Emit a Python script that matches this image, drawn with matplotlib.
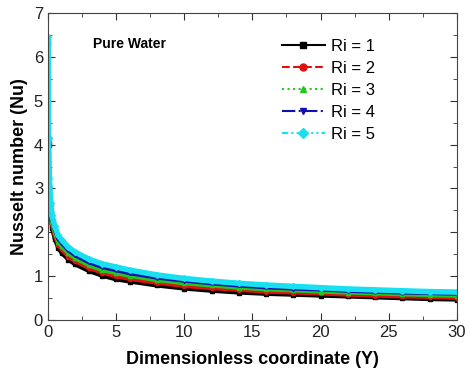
import matplotlib
matplotlib.use("Agg")
import matplotlib.pyplot as plt
from matplotlib.lines import Line2D
from matplotlib.ticker import MultipleLocator

plt.rcParams['font.family'] = ['Liberation Sans', 'DejaVu Sans']

# dimensionless coordinate (Y) and Nusselt number
Y = [0.02, 0.05, 0.1, 0.2, 0.3, 0.5, 0.75, 1, 1.5, 2, 3, 4, 5, 6, 8, 10,
     12, 14, 16, 18, 20, 22, 24, 26, 28, 30]
nu_ri1 = [6.30, 4.00, 3.00, 2.40, 2.10, 1.85, 1.65, 1.53, 1.38, 1.27, 1.12, 1.01, 0.93,
          0.88, 0.79, 0.72, 0.67, 0.63, 0.60, 0.58, 0.56, 0.54, 0.52, 0.50, 0.48, 0.47]
nu_ri2 = [6.35, 4.05, 3.06, 2.47, 2.18, 1.93, 1.72, 1.61, 1.45, 1.34, 1.19, 1.08, 1.00,
          0.94, 0.85, 0.78, 0.73, 0.69, 0.65, 0.63, 0.61, 0.58, 0.56, 0.54, 0.53, 0.51]
nu_ri3 = [6.38, 4.10, 3.12, 2.54, 2.25, 2.00, 1.79, 1.68, 1.52, 1.41, 1.25, 1.14, 1.07,
          1.01, 0.91, 0.84, 0.79, 0.74, 0.70, 0.68, 0.65, 0.63, 0.61, 0.59, 0.57, 0.56]
nu_ri4 = [6.40, 4.12, 3.18, 2.61, 2.32, 2.07, 1.86, 1.76, 1.59, 1.48, 1.32, 1.21, 1.14,
          1.07, 0.97, 0.90, 0.84, 0.79, 0.75, 0.72, 0.70, 0.67, 0.65, 0.63, 0.62, 0.60]
nu_ri5 = [6.45, 4.15, 3.24, 2.68, 2.39, 2.14, 1.93, 1.83, 1.66, 1.55, 1.39, 1.28, 1.21,
          1.14, 1.03, 0.95, 0.89, 0.84, 0.80, 0.77, 0.74, 0.71, 0.69, 0.67, 0.65, 0.64]

labels = ["Ri = 1", "Ri = 2", "Ri = 3", "Ri = 4", "Ri = 5"]
series = [nu_ri1, nu_ri2, nu_ri3, nu_ri4, nu_ri5]
colors = ["black", "#e01010", "#20c820", "#1010b0", "#18e0f0"]
styles = ["-", "--", ":", "-.", (0, (3, 1.5, 1, 1.5, 1, 1.5))]
markers = ["s", "o", "^", "v", "D"]
widths = [3, 3, 3, 3, 4]

fig = plt.figure(figsize=(4.7, 3.78), dpi=100)
ax = fig.add_axes([0.102, 0.153, 0.870, 0.813])

# dense markers in the original merge into solid bands
for nu, c, m, lw in zip(series, colors, markers, widths):
    ax.plot(Y, nu, color=c, linestyle="-", linewidth=lw, marker=m, markersize=3,
            solid_capstyle="round")

ax.set_xlim(0, 30)
ax.set_ylim(0, 7)
ax.xaxis.set_major_locator(MultipleLocator(5))
ax.xaxis.set_minor_locator(MultipleLocator(2.5))
ax.yaxis.set_major_locator(MultipleLocator(1))
ax.yaxis.set_minor_locator(MultipleLocator(0.5))
ax.tick_params(which="both", direction="in", top=True, right=True, labelsize=12,
               colors="#333333", labelcolor="#222222")
ax.tick_params(which="major", length=5)
ax.tick_params(which="minor", length=3)
for sp in ax.spines.values():
    sp.set_color("#444444")

ax.set_xlabel("Dimensionless coordinate (Y)", fontsize=13, fontweight="bold",
              labelpad=8)
ax.set_ylabel("Nusselt number (Nu)", fontsize=13, fontweight="bold")
ax.text(3.3, 6.28, "Pure Water", fontsize=10, fontweight="bold", va="center")

handles = [Line2D([], [], color=c, linestyle=ls, linewidth=1.5, marker=m,
                  markersize=5) for c, ls, m in zip(colors, styles, markers)]
ax.legend(handles, labels, loc="upper left", bbox_to_anchor=(0.535, 0.965),
          frameon=False, fontsize=12, handlelength=2.6, handletextpad=0.35,
          labelspacing=0.42)

fig.savefig("out.png", dpi=100)
